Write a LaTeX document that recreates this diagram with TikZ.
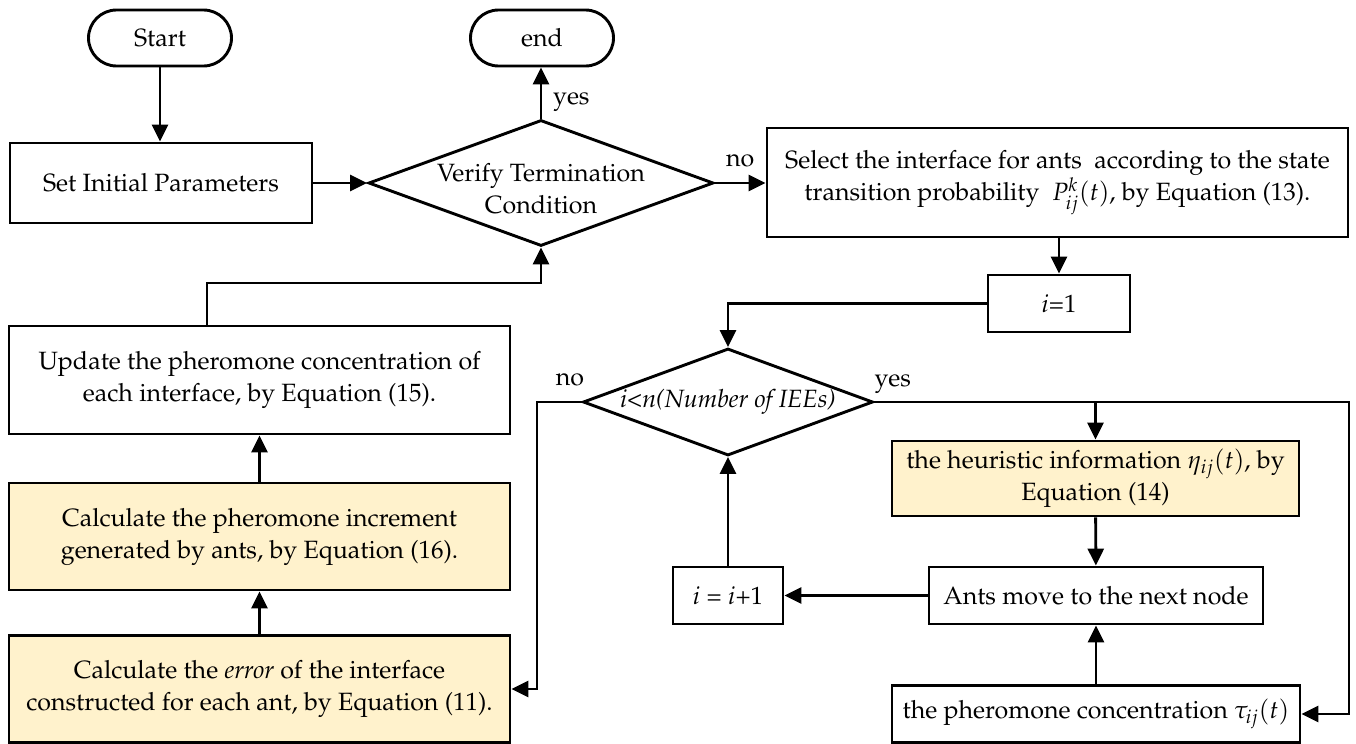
\documentclass[tikz,border=0pt]{standalone}
\usepackage[T1]{fontenc}
\usepackage{mathpazo}
\usepackage{tikz}
\usetikzlibrary{arrows.meta}
\usetikzlibrary{shapes.geometric}
\usetikzlibrary{positioning}
\definecolor{paleyellow}{RGB}{255, 242, 204}

\begin{document}
\begin{tikzpicture}[x=0.5pt, y=-0.5pt, line width=1.45pt, font=\fontsize{12.5}{16}\selectfont,
    terminal/.style={draw, rectangle, rounded corners=14pt, minimum width=71.5pt, minimum height=28pt, inner sep=0pt},
    process/.style={draw, rectangle, align=center, inner sep=0pt},
    decision/.style={draw, diamond, inner sep=0pt},
    flow/.style={-{Triangle[length=8.5pt, width=8pt]}}]
            \useasboundingbox (0,0) rectangle (1356,744);
            % Top row
            \node[terminal] (start) at (160,38) {Start};
            \node[terminal] (stop)  at (542,38) {end};
            \node[process, minimum width=151pt, minimum height=40pt] (init) at (161,183) {Set Initial Parameters};
            \node[decision, minimum width=172.5pt, minimum height=63pt,
                  label={[align=center, yshift=-3pt]center:Verify Termination\\Condition}] (verify) at (541,183) {};
            \node[process, minimum width=290.5pt, minimum height=54.5pt] (select) at (1057.5,182.5)
                 {Select the interface for ants~ according to the state\\transition probability~ $P_{ij}^{k}(t)$, by Equation (13).};
            % Inner loop
            \node[process, minimum width=71pt, minimum height=28.5pt] (iinit) at (1059,303.5) {$i$=1};
            \node[decision, minimum width=145pt, minimum height=53.5pt,
                  label={center:\textit{i<n(Number of IEEs)}}] (check) at (728,402) {};
            \node[process, fill=paleyellow, minimum width=203.5pt, minimum height=37.5pt] (heur) at (1095.5,478.5)
                 {the heuristic information $\eta_{ij}(t)$, by\\Equation (14)};
            \node[process, minimum width=167pt, minimum height=28.5pt] (move) at (1096,595.5) {Ants move to the next node};
            \node[process, minimum width=55pt, minimum height=28.5pt] (inc) at (728,595.5) {$i$ = $i$+1};
            \node[process, minimum width=204pt, minimum height=28.5pt] (tau) at (1096,714) {the pheromone concentration $\tau_{ij}(t)$};
            % Left column
            \node[process, minimum width=250.5pt, minimum height=54pt] (update) at (259.5,380)
                 {Update the pheromone concentration of\\each interface, by Equation (15).};
            \node[process, fill=paleyellow, minimum width=250.5pt, minimum height=53.5pt] (delta) at (259.5,536.5)
                 {Calculate the pheromone increment\\generated by ants, by Equation (16).};
            \node[process, fill=paleyellow, minimum width=250.5pt, minimum height=53.5pt] (error) at (259.5,689)
                 {Calculate the \textit{error} of the interface\\constructed for each ant, by Equation (11).};
            % Turning points
            \coordinate (yesturn) at (1349,402);
            \coordinate (noturn)  at (537,402);
            \coordinate (back)    at (207,283);
            % Connectors
            \draw[flow] (start.south) -- (start.south |- init.north);
            \draw[flow] (init) -- (verify);
            \draw[flow] (verify.north) -- node[right=2pt, pos=0.33] {yes} (verify.north |- stop.south);
            \draw[flow] (verify.east) -- node[above=4pt] {no} (verify.east -| select.west);
            \draw[flow] (select.south -| iinit) -- (iinit);
            \draw[flow] (iinit) -| (check);
            \draw[flow] (check.east) -- node[pos=0, above right=0pt and -4pt] {yes} (yesturn) |- (tau);
            \draw[flow] (heur.north |- check.east) -- (heur);
            \draw[flow] (check.west) -- node[pos=0.26, above=4pt] {no} (noturn) |- (error);
            \draw[flow] (heur) -- (move);
            \draw[flow] (tau) -- (move);
            \draw[flow] (move) -- (inc);
            \draw[flow] (inc) -- (check);
            \draw[flow] (error) -- (delta);
            \draw[flow] (delta) -- (update);
            \draw[flow] (update.north -| back) -- (back) -| (verify.south);
\end{tikzpicture}
\end{document}
